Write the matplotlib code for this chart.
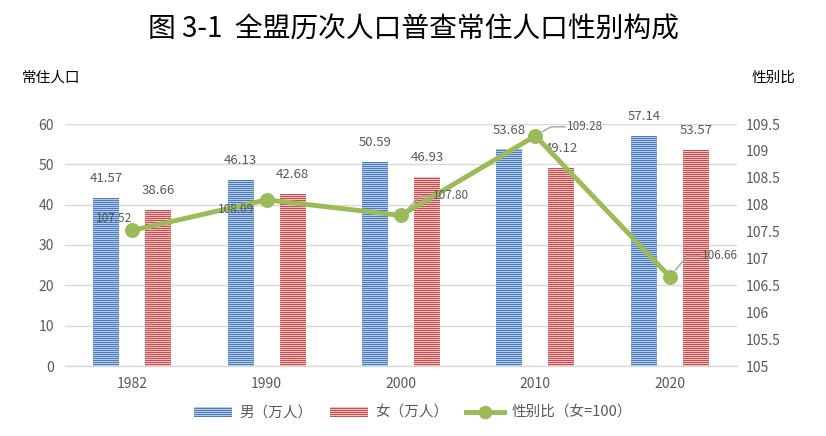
import numpy as np
import matplotlib
matplotlib.use('Agg')
import matplotlib.pyplot as plt
import matplotlib.hatch as mhatch
from matplotlib.lines import Line2D
from matplotlib.patches import Patch

# draw at 72 dpi so the hatch stripes land on whole pixels; S scales sizes back up
DPI = 72
S = 100 / DPI

# nudge horizontal hatch lines by half a pixel so 1px stripes are crisp
_orig_hh = mhatch.HorizontalHatch.set_vertices_and_codes
def _hh_shift(self, vertices, codes):
    _orig_hh(self, vertices, codes)
    vertices[:, 1] += 0.5 / DPI
mhatch.HorizontalHatch.set_vertices_and_codes = _hh_shift

plt.rcParams['font.family'] = ['Noto Sans CJK SC', 'DejaVu Sans']
plt.rcParams['hatch.linewidth'] = 1.0

years = ['1982', '1990', '2000', '2010', '2020']
male = [41.57, 46.13, 50.59, 53.68, 57.14]
female = [38.66, 42.68, 46.93, 49.12, 53.57]
ratio = [107.52, 108.09, 107.80, 109.28, 106.66]

grey = '#595959'
blue = '#4a7ebf'
red = '#c9504e'
green = '#9bbb59'
blue_bg = '#b4c8e6'
red_bg = '#eebdbd'
hatch = '------'

fig = plt.figure(figsize=(826 / DPI, 436 / DPI), dpi=DPI)
ax = fig.add_axes([65 / 826, 1 - 366 / 436, 672 / 826, 242 / 436])
ax2 = ax.twinx()

x = np.arange(len(years))
w = 0.193
off = 0.193
ax.bar(x - off, male, w, color=blue_bg, edgecolor=blue, hatch=hatch, linewidth=0, zorder=2)
ax.bar(x + off, female, w, color=red_bg, edgecolor=red, hatch=hatch, linewidth=0, zorder=2)

for i in range(len(years)):
    ax.text(x[i] - off, male[i] + 3.2, '%.2f' % male[i], ha='center', va='bottom', fontsize=9.5 * S, color=grey)
    ax.text(x[i] + off, female[i] + 3.2, '%.2f' % female[i], ha='center', va='bottom', fontsize=9.5 * S, color=grey)

ax.set_ylim(0, 60)
ax.set_yticks(range(0, 61, 10))
ax.set_xlim(-0.5, len(years) - 0.5)
ax.set_xticks(x)
ax.set_xticklabels(years)
ax.grid(axis='y', color='#d9d9d9', linewidth=1 * S, zorder=0)
ax.set_axisbelow(True)

ax2.plot(x, ratio, color=green, linewidth=3.5 * S, marker='o', markersize=10 * S, zorder=5)
ax2.set_ylim(105, 109.5)
ax2.set_yticks(np.arange(105, 109.51, 0.5))
ax2.set_yticklabels(['105', '105.5', '106', '106.5', '107', '107.5', '108', '108.5', '109', '109.5'])

# line labels (offsets in points at 100 dpi, scaled)
lead = dict(arrowstyle='-', color='#a6a6a6', lw=1 * S, shrinkA=0, shrinkB=6 * S)
lab = dict(textcoords='offset points', fontsize=8.5 * S, color=grey, zorder=6, va='center')
ax2.annotate('107.52', (x[0], ratio[0]), xytext=(0, 8.5 * S), ha='right', **lab)
ax2.annotate('108.09', (x[1], ratio[1]), xytext=(-9 * S, -7 * S), ha='right', **lab)
ax2.annotate('107.80', (x[2], ratio[2]), xytext=(23 * S, 14 * S), ha='left',
             arrowprops=dict(lead, connectionstyle='angle,angleA=0,angleB=45,rad=0'), **lab)
ax2.annotate('109.28', (x[3], ratio[3]), xytext=(23 * S, 6.5 * S), ha='left',
             arrowprops=dict(lead, connectionstyle='angle,angleA=0,angleB=30,rad=0'), **lab)
ax2.annotate('106.66', (x[4], ratio[4]), xytext=(23 * S, 15 * S), ha='left',
             arrowprops=dict(lead, connectionstyle='angle,angleA=0,angleB=50,rad=0'), **lab)

for a in (ax, ax2):
    for s in a.spines.values():
        s.set_visible(False)
    a.tick_params(length=0, labelsize=10 * S, colors=grey)
ax.spines['bottom'].set_visible(True)
ax.spines['bottom'].set_color('#d9d9d9')
ax.spines['bottom'].set_linewidth(1 * S)
ax.tick_params(axis='x', pad=8 * S)
ax.tick_params(axis='y', pad=8 * S)
ax2.tick_params(axis='y', pad=6 * S)

fig.text(0.5, 1 - 30 / 436, '图 3-1  全盟历次人口普查常住人口性别构成', ha='center', va='center',
         fontsize=20 * S, color='black')
fig.text(22 / 826, 1 - 78 / 436, '常住人口', ha='left', va='center', fontsize=10.5 * S, color='black')
fig.text(795 / 826, 1 - 78 / 436, '性别比', ha='right', va='center', fontsize=10.5 * S, color='black')

handles = [
    Patch(facecolor=blue_bg, edgecolor=blue, hatch=hatch, linewidth=0, label='男（万人）'),
    Patch(facecolor=red_bg, edgecolor=red, hatch=hatch, linewidth=0, label='女（万人）'),
    Line2D([0], [0], color=green, linewidth=3.5 * S, marker='o', markersize=9 * S, label='性别比（女=100）'),
]
fig.legend(handles=handles, loc='center', bbox_to_anchor=(0.5, 1 - 413 / 436), ncol=3, frameon=False,
           fontsize=10.5 * S, labelcolor=grey, handlelength=2.6, columnspacing=1.2, handletextpad=0.5)

fig.savefig('out.png', dpi=DPI)
